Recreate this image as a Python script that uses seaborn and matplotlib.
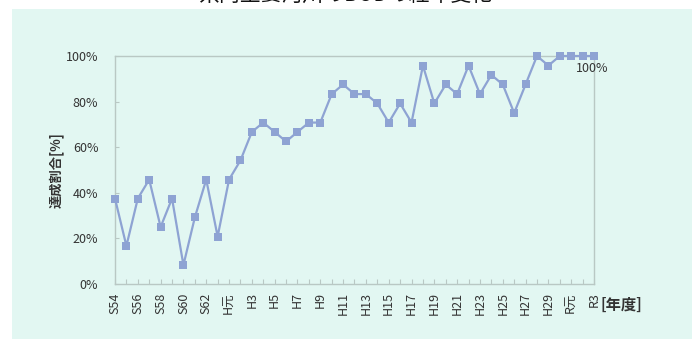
import matplotlib
matplotlib.use("Agg")
import matplotlib.pyplot as plt
import seaborn as sns
import pandas as pd
from matplotlib.patches import Rectangle

# Fiscal years (Showa 54 through Reiwa 3)
years = (["S%d" % n for n in range(54, 64)]
         + ["H元"] + ["H%d" % n for n in range(2, 31)]
         + ["R元", "R2", "R3"])

# Share of monitoring points meeting the BOD environmental standard [%]
rate = [37.5, 16.7, 37.5, 45.8, 25.0, 37.5, 8.3, 29.2, 45.8, 20.8,
        45.8, 54.2, 66.7, 70.8, 66.7, 62.5, 66.7, 70.8, 70.8, 83.3,
        87.5, 83.3, 83.3, 79.2, 70.8, 79.2, 70.8, 95.8, 79.2, 87.5,
        83.3, 95.8, 83.3, 91.7, 87.5, 75.0, 87.5, 100.0, 95.8, 100.0,
        100.0, 100.0, 100.0]

y_ticks = [0, 20, 40, 60, 80, 100]

title = "県内主要河川のBODの経年変化"
y_label = "達成割合[%]"
x_label = "[年度]"

sns.set_theme(style="white")
plt.rcParams["font.family"] = ["Noto Sans CJK JP", "DejaVu Sans"]

text_color = "#333333"
line_color = "#8ea3d3"
frame_color = "#b9c8c4"
panel_color = "#e2f7f2"

df = pd.DataFrame({"pos": range(len(years)), "year": years, "rate": rate})

fig = plt.figure(figsize=(6.92, 3.40), dpi=100)
fig.patch.set_facecolor("white")

# light panel behind the chart
fig.patches.append(Rectangle((12 / 692, 1 / 340), 680 / 692, 330 / 340,
                             transform=fig.transFigure, facecolor=panel_color,
                             edgecolor="none", zorder=-10))

# heading, partly cut off at the top edge
fig.text(0.5, 1 - 6 / 340, title, ha="center", va="bottom",
         fontsize=15, color="#111111")

ax = fig.add_axes([115 / 692, 1 - 284 / 340, 479 / 692, 228 / 340])
ax.set_facecolor("none")
ax.set_zorder(5)

sns.lineplot(data=df, x="pos", y="rate", ax=ax, color=line_color,
             linewidth=1.6, marker="s", markersize=6.3,
             markeredgewidth=0, markerfacecolor=line_color, zorder=3,
             clip_on=False)

ax.set_xlim(0, len(years) - 1)
ax.set_ylim(0, 100)
ax.set_yticks(y_ticks)
ax.set_yticklabels([f"{v}%" for v in y_ticks])
ax.set_xticks(df["pos"])
ax.set_xticklabels([y if i % 2 == 0 else "" for i, y in enumerate(years)],
                   rotation=90)

ax.tick_params(axis="x", direction="in", length=3.5, width=0.8,
               color=frame_color, labelsize=9, labelcolor=text_color, pad=6)
ax.tick_params(axis="y", direction="in", length=3, width=0.8,
               color=frame_color, labelsize=9, labelcolor=text_color, pad=12)
ax.tick_params(left=True, bottom=True)

for side in ["left", "bottom", "top", "right"]:
    ax.spines[side].set_visible(True)
    ax.spines[side].set_color(frame_color)
    ax.spines[side].set_linewidth(1.0)

ax.set_xlabel("")
ax.set_ylabel(y_label, fontsize=9.5, fontweight="bold", color=text_color,
              labelpad=1.5)

# value of the latest year, shown under its marker
last = len(years) - 1
ax.annotate(f"{rate[last]:.0f}%", (last, rate[last]), xytext=(-1, -4),
            textcoords="offset points", ha="center", va="top",
            fontsize=9, color=text_color, zorder=4)

# unit label next to the last tick label
fig.text(600 / 692, 1 - 305 / 340, x_label, ha="left", va="center",
         fontsize=11, fontweight="bold", color=text_color)

fig.savefig("out.png", dpi=100, facecolor=fig.get_facecolor())
